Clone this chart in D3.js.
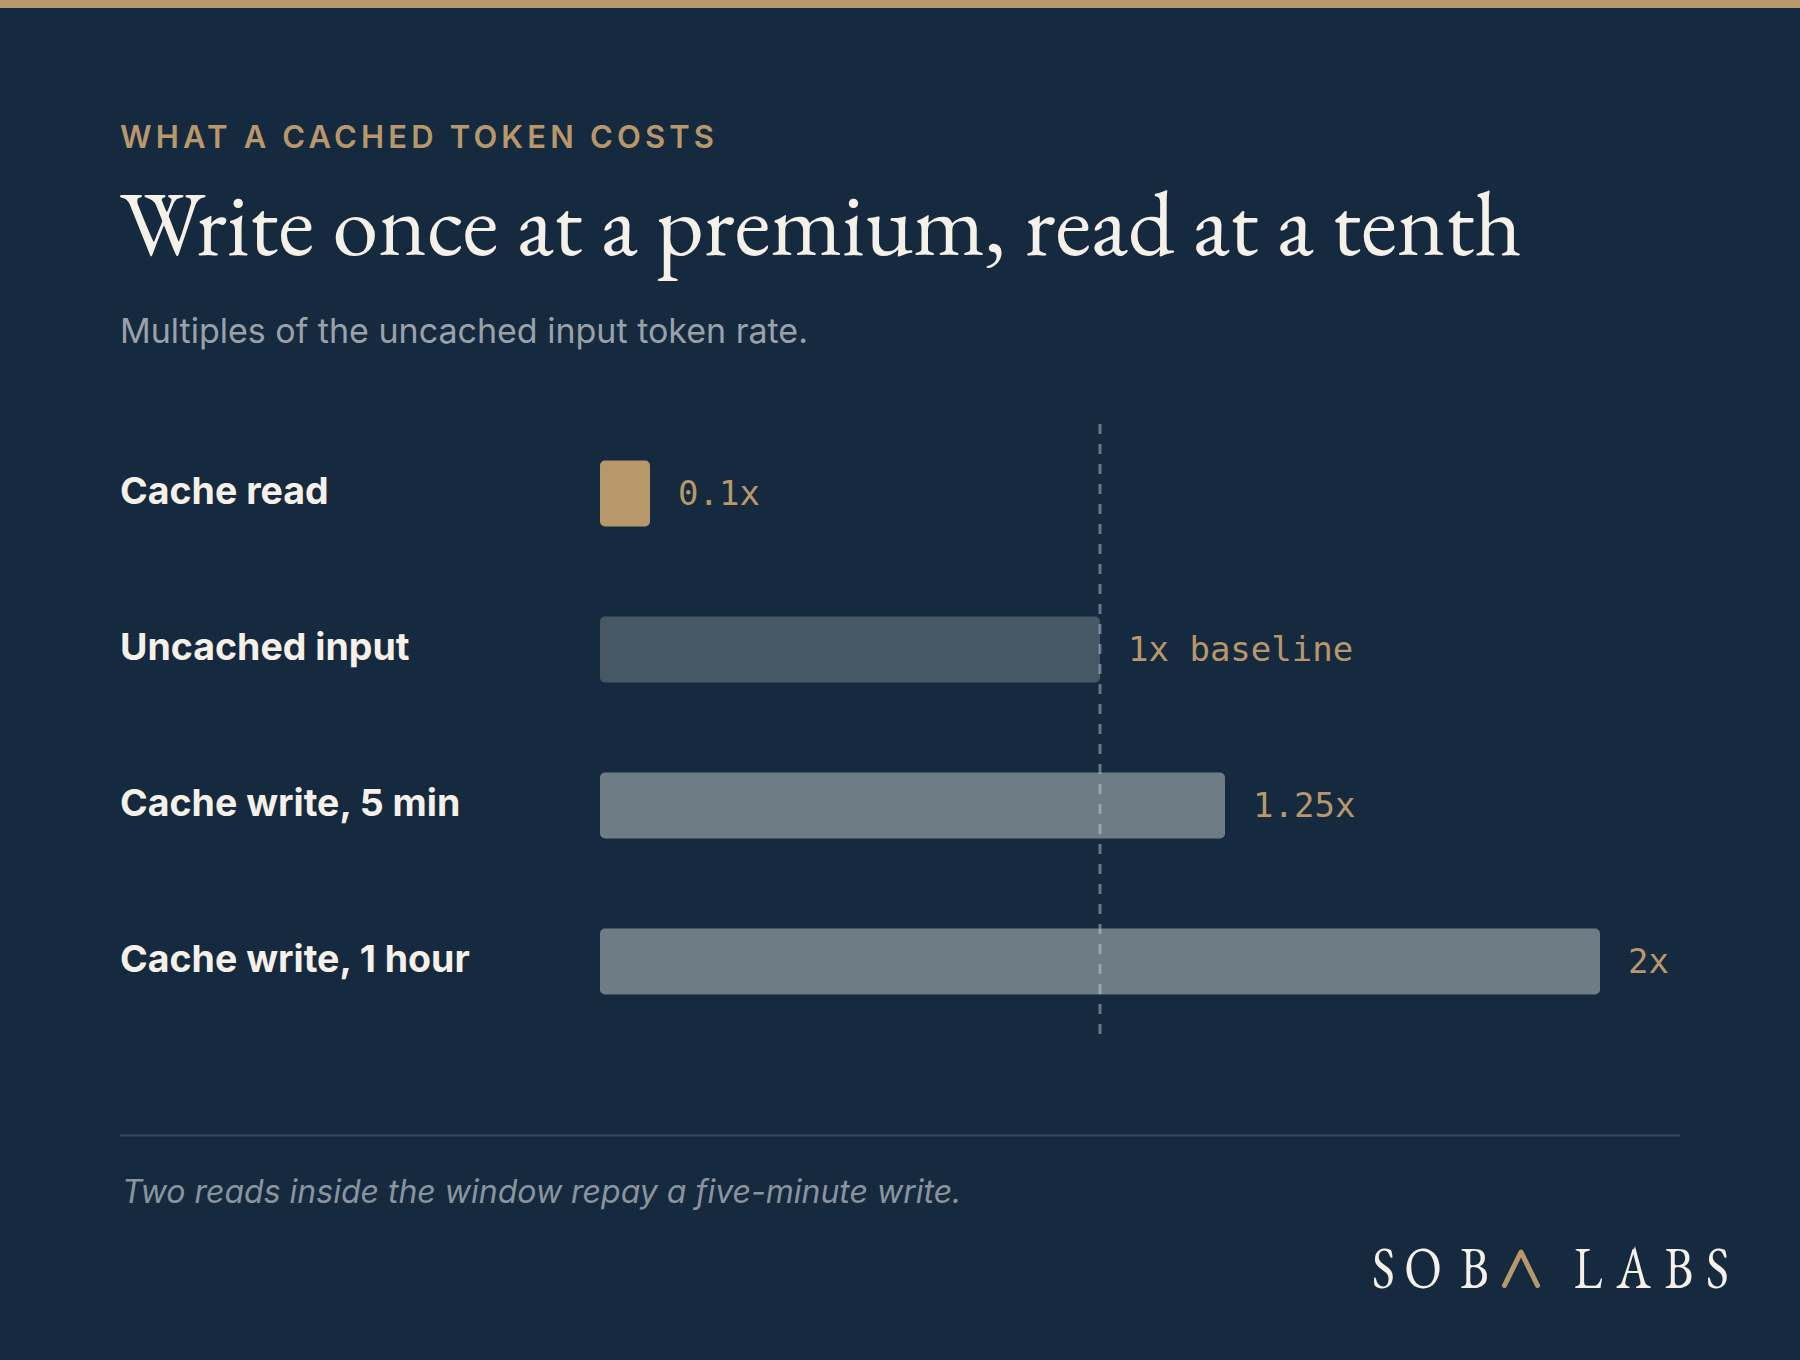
<!DOCTYPE html>
<html>
<head>
<meta charset="utf-8">
<script src="https://cdn.jsdelivr.net/npm/d3@7"></script>
<style>
  html, body { margin: 0; padding: 0; background: #162a3f; }
  svg { display: block; }
</style>
</head>
<body>
<svg id="chart" width="1800" height="1360"></svg>
<script>
// ---- data ----
const categories = ["Cache read", "Uncached input", "Cache write, 5 min", "Cache write, 1 hour"];
const values = [0.1, 1, 1.25, 2];
const valueLabels = ["0.1x", "1x baseline", "1.25x", "2x"];
const barKinds = ["highlight", "baseline", "write", "write"];
const baselineValue = 1;
const xDomain = [0, 2];

const eyebrow = "WHAT A CACHED TOKEN COSTS";
const title = "Write once at a premium, read at a tenth";
const subtitle = "Multiples of the uncached input token rate.";
const footnote = "Two reads inside the window repay a five-minute write.";

// ---- styles ----
const C = {
  bg: "#162a3f", gold: "#b8976a", cream: "#f5f0e8", grey: "#9aa1a8",
  baseline: "#465866", write: "#6e7c86", rule: "#34485b", dash: "rgba(200,212,224,0.45)"
};
const fillFor = { highlight: C.gold, baseline: C.baseline, write: C.write };

const svg = d3.select("#chart");
const W = 1800, H = 1360;
svg.append("rect").attr("width", W).attr("height", H).attr("fill", C.bg);
svg.append("rect").attr("width", W).attr("height", 8).attr("fill", C.gold);

const left = 120;

// eyebrow
const eb = svg.append("text").attr("x", left).attr("y", 148)
  .attr("font-family", "Inter, sans-serif").attr("font-weight", 600)
  .attr("font-size", 31).attr("fill", C.gold).text(eyebrow);
{
  const len = eb.node().getComputedTextLength();
  const target = 594;
  const ls = (target - len) / (eyebrow.length - 1);
  eb.attr("letter-spacing", ls);
}

// title
const tt = svg.append("text").attr("x", left).attr("y", 255)
  .attr("font-family", "'EB Garamond', 'Liberation Serif', serif")
  .attr("font-size", 92).attr("fill", C.cream).text(title);
{
  const len = tt.node().getComputedTextLength();
  const target = 1402;
  tt.attr("font-size", 92 * target / len);
}

// subtitle
svg.append("text").attr("x", left).attr("y", 343)
  .attr("font-family", "Inter, sans-serif").attr("font-size", 34)
  .attr("fill", C.grey).text(subtitle);

// ---- scales ----
const x = d3.scaleLinear().domain(xDomain).range([600, 1600]);
const y = d3.scalePoint().domain(categories).range([493.5, 961.5]);
const barH = 66;

const rows = categories.map((c, i) => ({ c, v: values[i], label: valueLabels[i], kind: barKinds[i] }));

svg.append("g").selectAll("rect").data(rows).join("rect")
  .attr("x", x(0))
  .attr("y", d => y(d.c) - barH / 2)
  .attr("width", d => x(d.v) - x(0))
  .attr("height", barH)
  .attr("rx", 5).attr("ry", 5)
  .attr("fill", d => fillFor[d.kind]);

// dashed baseline marker (drawn over bars)
svg.append("line")
  .attr("x1", x(baselineValue)).attr("x2", x(baselineValue))
  .attr("y1", 424).attr("y2", 1034)
  .attr("stroke", C.dash).attr("stroke-width", 3)
  .attr("stroke-dasharray", "10,10");

// category labels
svg.append("g").selectAll("text").data(rows).join("text")
  .attr("x", left).attr("y", d => y(d.c) + 10)
  .attr("font-family", "Inter, sans-serif").attr("font-weight", 700)
  .attr("font-size", 37.5).attr("fill", C.cream)
  .text(d => d.c);

// value labels
svg.append("g").selectAll("text").data(rows).join("text")
  .attr("x", d => x(d.v) + 28).attr("y", d => y(d.c) + 11.5)
  .attr("font-family", "'DejaVu Sans Mono', monospace")
  .attr("font-size", 34).attr("fill", C.gold)
  .text(d => d.label);

// footer rule
svg.append("line").attr("x1", left).attr("x2", 1680)
  .attr("y1", 1135.5).attr("y2", 1135.5)
  .attr("stroke", C.rule).attr("stroke-width", 2);

// footnote
svg.append("text").attr("x", left + 2).attr("y", 1203)
  .attr("font-family", "Inter, sans-serif").attr("font-style", "italic")
  .attr("font-size", 32).attr("fill", "#8a949d").text(footnote);

// logo: SOB [chevron] LABS — letters centred individually
const logo = svg.append("g");
const logoY = 1288;
const logoLetters = [
  { ch: "S", cx: 1383.5 }, { ch: "O", cx: 1423 }, { ch: "B", cx: 1474.5 },
  { ch: "L", cx: 1588 }, { ch: "A", cx: 1633.5 }, { ch: "B", cx: 1679 }, { ch: "S", cx: 1717.5 }
];
logo.selectAll("text").data(logoLetters).join("text")
  .attr("transform", d => `translate(${d.cx},${logoY}) scale(0.82,1)`)
  .attr("text-anchor", "middle")
  .attr("font-family", "'EB Garamond', 'Liberation Serif', serif")
  .attr("font-size", 60).attr("fill", C.cream)
  .text(d => d.ch);
logo.append("path")
  .attr("d", `M1504.5,${logoY - 2.5} L1521,${logoY - 36} L1537.5,${logoY - 2.5}`)
  .attr("fill", "none").attr("stroke", C.gold).attr("stroke-width", 5)
  .attr("stroke-linecap", "round").attr("stroke-linejoin", "round");
</script>
</body>
</html>
